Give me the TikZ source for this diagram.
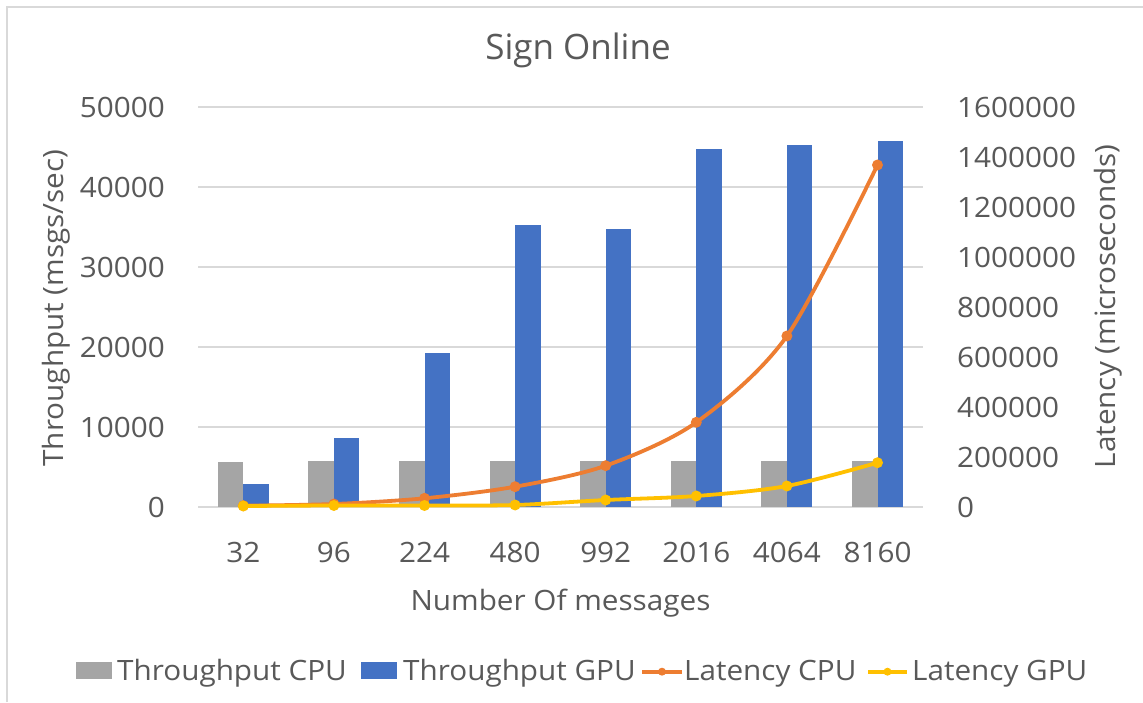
\documentclass[tikz,border=0pt]{standalone}
\usepackage{fontspec}
\setmainfont{Open Sans}
\newfontfamily\lblfont{Open Sans}[FakeStretch=1.06]
\begin{document}
\begin{tikzpicture}[x=1pt,y=1pt,
  lbl/.style={font=\lblfont\fontsize{28}{31}\selectfont, text=txtgray, inner sep=0pt},
  ttl/.style={font=\fontsize{35}{40}\selectfont, text=txtgray, inner sep=0pt},
  grid/.style={draw=gridgray, line width=1.4pt},
  latline/.style={line width=3.8pt, line cap=round, line join=round},
]
\definecolor{txtgray}{HTML}{595959}
\definecolor{gridgray}{HTML}{D9D9D9}
\definecolor{barcpu}{HTML}{A5A5A5}
\definecolor{bargpu}{HTML}{4472C4}
\definecolor{latcpu}{HTML}{ED7D31}
\definecolor{latgpu}{HTML}{FFC000}

\useasboundingbox (0,0) rectangle (1143,702);
\fill[white] (0,0) rectangle (1143,702);

% chart frame (left and top edges)
\draw[draw=gridgray, line width=1.2pt] (7,0) -- (7,695) -- (1143,695);

% title
\node[ttl, anchor=base] (title) at (578,642) {Sign Online};

% horizontal gridlines and left tick labels
\foreach \i/\l in {0/0,1/10000,2/20000,3/30000,4/40000,5/50000}{
  \pgfmathsetmacro\gy{195+80*\i}
  \draw[grid] (198,\gy) -- (923,\gy);
  \node[lbl, anchor=east] (yl\i) at (165,\gy) {\l};
}
% right axis: 8 steps of 200000
\foreach \j/\r in {0/0,1/200000,2/400000,3/600000,4/800000,5/1000000,6/1200000,7/1400000,8/1600000}{
  \pgfmathsetmacro\gy{195+50*\j}
  \node[lbl, anchor=west] (yr\j) at (957,\gy) {\r};
}

% axis titles
\node[lbl, rotate=90, anchor=base] (ytitle) at (63,394) {Throughput (msgs/sec)};
\node[lbl, rotate=90, anchor=base] (rtitle) at (1115,395.5) {Latency (microseconds)};
\node[lbl, anchor=base] (xtitle) at (560.5,92) {Number Of messages};

% bars: category index / label / CPU height / GPU height
\foreach \k/\c/\hc/\hg in {0/32/44.7/23.3, 1/96/46.3/69.3, 2/224/46.3/154.3, 3/480/46.3/282.3,
                           4/992/46.3/278.3, 5/2016/46.3/357.7, 6/4064/46.3/361.7, 7/8160/46.3/366}{
  \pgfmathsetmacro\cx{198+90.6*(\k+0.5)}
  \fill[barcpu] (\cx-25.5,195) rectangle (\cx,195+\hc);
  \fill[bargpu] (\cx,195) rectangle (\cx+25.5,195+\hg);
  \node[lbl, anchor=base] (xl\k) at (\cx,139.3) {\c};
}

% latency curves (right axis, 4000 per unit)
\draw[latline, latcpu] plot[smooth, tension=0.5] coordinates {
  (243.3,196.3) (333.9,198) (424.5,203.7) (515.1,215.3) (605.7,236.3) (696.3,279.7) (786.9,366) (877.5,537)};
\foreach \px/\py in {243.3/196.3, 333.9/198, 424.5/203.7, 515.1/215.3, 605.7/236.3, 696.3/279.7, 786.9/366, 877.5/537}
  \fill[latcpu] (\px,\py) circle (5.5);

\draw[latline, latgpu] plot[smooth, tension=0.5] coordinates {
  (243.3,196) (333.9,196.5) (424.5,196.5) (515.1,197) (605.7,202) (696.3,206) (786.9,216) (877.5,239.3)};
\foreach \px/\py in {243.3/196, 333.9/196.5, 424.5/196.5, 515.1/197, 605.7/202, 696.3/206, 786.9/216, 877.5/239.3}
  \fill[latgpu] (\px,\py) circle (5.5);

% legend
\fill[barcpu] (76,22.7) rectangle (112,40.3);
\node[lbl, anchor=base west] (lg1) at (117,22) {Throughput CPU};
\fill[bargpu] (361,22.7) rectangle (397,40.3);
\node[lbl, anchor=base west] (lg2) at (403,22) {Throughput GPU};
\draw[latcpu, line width=3.8pt] (642,30.3) -- (682,30.3);
\fill[latcpu] (662,30.3) circle (4);
\node[lbl, anchor=base west] (lg3) at (684,22) {Latency CPU};
\draw[latgpu, line width=3.8pt] (868,30.3) -- (907,30.3);
\fill[latgpu] (887.5,30.3) circle (4);
\node[lbl, anchor=base west] (lg4) at (912,22) {Latency GPU};
\end{tikzpicture}
\end{document}
